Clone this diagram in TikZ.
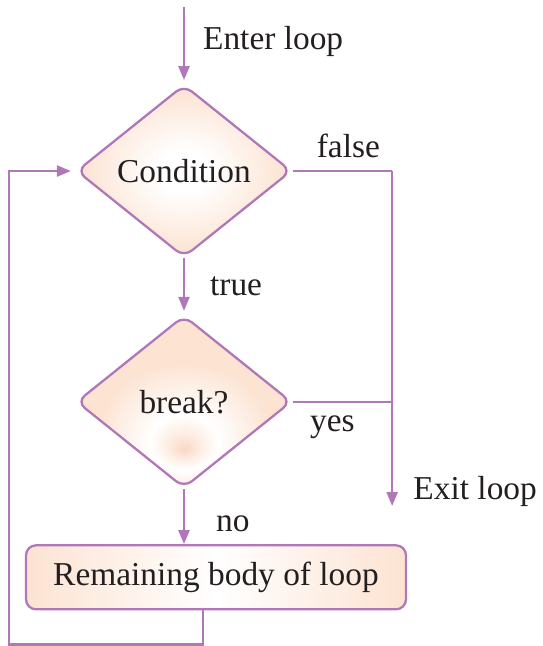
\documentclass[tikz,border=0pt]{standalone}
\usepackage{fontspec}
\setmainfont{Liberation Serif}
\usepackage{tikz}
\usetikzlibrary{arrows.meta, positioning, shapes.geometric}
\definecolor{loopline}{HTML}{B078B9}
\definecolor{peach}{HTML}{FCE3D2}
\definecolor{peachdk}{HTML}{FAD8C4}
\definecolor{inktext}{HTML}{231F20}
\pgfdeclareradialshading{condshade}{\pgfpointorigin}{color(0bp)=(white); color(6bp)=(white); color(24bp)=(peach); color(50bp)=(peach)}
\pgfdeclareradialshading{brkshade}{\pgfpoint{0bp}{-14bp}}{color(0bp)=(peachdk); color(4bp)=(peach!60); color(8bp)=(white); color(20bp)=(peach); color(50bp)=(peach)}

\begin{document}
\begin{tikzpicture}[
  font=\fontsize{19}{23}\selectfont, text=inktext,
  decision/.style={diamond, aspect=1.25, rounded corners=0.2cm, draw=loopline,
    line width=1.3pt, inner sep=0pt, minimum width=4.3cm, minimum height=3.45cm},
  process/.style={rectangle, rounded corners=0.2cm, draw=loopline, line width=1.3pt,
    left color=peach, right color=peach, middle color=white,
    minimum width=7.6cm, minimum height=1.28cm, inner sep=0pt},
  lbl/.style={inner sep=0.2cm, text=inktext},
  arr/.style={-{Triangle[length=0.28cm, width=0.22cm]}, loopline, line width=1.3pt},
  link/.style={loopline, line width=1.3pt}]
  \useasboundingbox (0,0) rectangle (10.84,-12.92);
  \node[decision, shading=condshade] (cond) at (3.68,-3.42) {Condition};
  \node[decision, shading=brkshade, below=1.12cm of cond] (brk) {break?};
  \node[process, below=1.1cm of brk, xshift=0.64cm] (body) {Remaining body of loop};
  \coordinate[above=1.53cm of cond.north] (entry);
  \coordinate[right=1.99cm of cond.east] (fcorner);
  \coordinate[below=6.7cm of fcorner] (exit);
  \coordinate[left=1.33cm of cond.west] (loopback);
  \draw[arr, shorten >=0.07cm] (entry) -- (cond.north)
    node[lbl, pos=0.45, anchor=west, xshift=0.16cm] (enterlbl) {Enter loop};
  \draw[arr, shorten >=0.07cm] (cond.south) -- (brk.north)
    node[lbl, midway, right=0.3cm] (truelbl) {true};
  \draw[link] (cond.east) -- (fcorner)
    node[lbl, pos=0.56, above, yshift=0.05cm] (falselbl) {false};
  \draw[arr] (fcorner) -- (exit);
  \node[lbl, anchor=west] (exitlbl) at ([xshift=0.22cm, yshift=0.3cm]exit) {Exit loop};
  \draw[link] (brk.east) -- (brk.east -| fcorner)
    node[lbl, pos=0.4, below, yshift=-0.05cm] (yeslbl) {yes};
  \draw[arr] (brk.south) -- (brk.south |- body.north)
    node[lbl, pos=0.63, right=0.42cm] (nolbl) {no};
  \draw[arr, shorten >=0.09cm] ([xshift=-0.26cm]body.south) -- ++(0,-0.68) -| (loopback) -- (cond.west);
\end{tikzpicture}
\end{document}
